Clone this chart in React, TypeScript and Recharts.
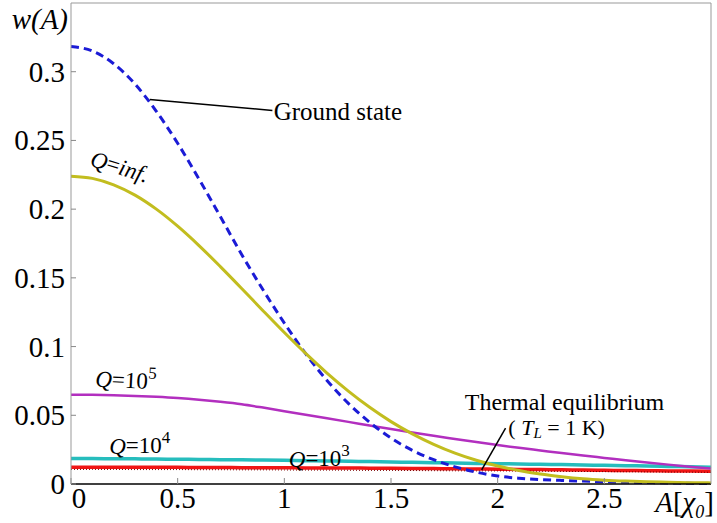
import { LineChart, Line, XAxis, YAxis, ReferenceLine, ReferenceDot } from 'recharts';

// amplitude A in units of chi_0
const amps = [
  0, 0.1, 0.2, 0.3, 0.4, 0.5, 0.6, 0.7, 0.8, 0.9, 1.0, 1.1, 1.2, 1.3, 1.4, 1.5,
  1.6, 1.7, 1.8, 1.9, 2.0, 2.1, 2.2, 2.3, 2.4, 2.5, 2.6, 2.7, 2.8, 2.9, 3.0,
];

const groundState = [
  0.3183, 0.3151, 0.3058, 0.291, 0.2712, 0.2479, 0.2219, 0.1946, 0.167, 0.1413, 0.1171,
  0.0948, 0.0753, 0.0587, 0.0449, 0.0334, 0.0245, 0.0177, 0.0125, 0.0086, 0.0058,
  0.0042, 0.0032, 0.0026, 0.0021, 0.0017, 0.0014, 0.0011, 0.0008, 0.0005, 0.0003,
];
const qInf = [
  0.224, 0.2224, 0.2177, 0.2102, 0.2, 0.1876, 0.1735, 0.1582, 0.1423, 0.1261, 0.1102,
  0.095, 0.0807, 0.0676, 0.0558, 0.0454, 0.0365, 0.0289, 0.0225, 0.0173, 0.0131,
  0.0098, 0.0072, 0.0053, 0.0038, 0.0028, 0.0021, 0.0016, 0.0013, 0.001, 0.0008,
];
const q1e5 = [
  0.065, 0.0649, 0.0646, 0.0641, 0.0634, 0.0625, 0.0613, 0.0598, 0.058, 0.0556, 0.053,
  0.0504, 0.0478, 0.0452, 0.0426, 0.04, 0.0375, 0.0351, 0.0328, 0.0305, 0.0283,
  0.0263, 0.0244, 0.0225, 0.0207, 0.019, 0.0173, 0.0157, 0.0141, 0.0126, 0.0112,
];
const q1e4 = [
  0.0185, 0.0185, 0.0184, 0.0183, 0.0182, 0.018, 0.0179, 0.0177, 0.0176, 0.0174, 0.0172,
  0.017, 0.0168, 0.0165, 0.0163, 0.016, 0.0158, 0.0155, 0.0153, 0.015, 0.0148,
  0.0146, 0.0143, 0.0141, 0.0138, 0.0136, 0.0133, 0.0131, 0.0128, 0.0125, 0.0122,
];
const q1e3 = [
  0.0122, 0.0122, 0.0122, 0.0121, 0.0121, 0.0121, 0.012, 0.012, 0.0119, 0.0119, 0.0118,
  0.0117, 0.0116, 0.0116, 0.0115, 0.0114, 0.0113, 0.0112, 0.0111, 0.0109, 0.0108,
  0.0106, 0.0105, 0.0103, 0.0102, 0.01, 0.0098, 0.0097, 0.0095, 0.0094, 0.0092,
];
const thermal = [
  0.0106, 0.0106, 0.0106, 0.0105, 0.0105, 0.0105, 0.0104, 0.0104, 0.0103, 0.0103, 0.0102,
  0.0101, 0.0101, 0.01, 0.0099, 0.0099, 0.0098, 0.0097, 0.0096, 0.0095, 0.0095,
  0.0094, 0.0093, 0.0092, 0.0091, 0.009, 0.0089, 0.0088, 0.0087, 0.0086, 0.0085,
];

const xTicks = [0, 0.5, 1, 1.5, 2, 2.5];
const yTicks = [0, 0.05, 0.1, 0.15, 0.2, 0.25, 0.3];

const rows = amps.map((a, i) => ({
  a,
  ground: groundState[i],
  inf: qInf[i],
  q5: q1e5[i],
  q4: q1e4[i],
  q3: q1e3[i],
  th: thermal[i],
}));

const SERIF = "'Liberation Serif', 'DejaVu Serif', serif";

const XTick = (p: any) => {
  const v = p.payload.value;
  return (
    <text x={p.x + (v === 0 ? 8 : 0)} y={p.y + 20} textAnchor="middle" fill="#000" style={{ fontFamily: SERIF, fontSize: 29 }}>
      {v}
    </text>
  );
};

const YTick = (p: any) => (
  <text x={p.x} y={p.y + 10} textAnchor="end" fill="#000" style={{ fontFamily: SERIF, fontSize: 29 }}>
    {p.payload.value}
  </text>
);

// text notes placed at data coordinates
const note = (content: any, opts: { anchor?: string; rotate?: number; size?: number } = {}) =>
  (p: any) => (
    <text
      x={p.cx}
      y={p.cy}
      textAnchor={opts.anchor || 'start'}
      dominantBaseline="central"
      fill="#000"
      style={{ fontFamily: SERIF, fontSize: opts.size || 25 }}
      transform={opts.rotate ? `rotate(${opts.rotate} ${p.cx} ${p.cy})` : undefined}
    >
      {content}
    </text>
  );

const qLabel = (exp: string) => (
  <>
    <tspan fontStyle="italic">Q</tspan>=10
    <tspan dy={-9} style={{ fontSize: 17 }}>{exp}</tspan>
  </>
);

export default function App() {
  const ids = { xAxisId: 'b', yAxisId: 'l' };
  return (
    <div style={{ position: 'absolute', left: 0, top: 0, background: '#fff' }}>
      <LineChart width={717} height={523} data={rows} margin={{ top: 0, right: 0, bottom: 0, left: 0 }}>
        <XAxis
          xAxisId="b"
          dataKey="a"
          type="number"
          domain={[0, 3]}
          ticks={xTicks}
          height={39}
          tickSize={-6}
          tickMargin={10}
          tick={<XTick />}
          axisLine={{ stroke: '#000', strokeWidth: 1.5 }}
          tickLine={{ stroke: '#888' }}
          label={{
            content: (p: any) => (
              <text x={p.viewBox.x + p.viewBox.width + 3} y={p.viewBox.y + 28} textAnchor="end" fill="#000" style={{ fontFamily: SERIF, fontSize: 29 }}>
                <tspan fontStyle="italic">A</tspan>[<tspan fontStyle="italic">χ</tspan>
                <tspan dy={6} fontStyle="italic" style={{ fontSize: 18 }}>0</tspan>
                <tspan dy={-6}>]</tspan>
              </text>
            ),
          }}
        />
        <XAxis
          xAxisId="t"
          dataKey="a"
          type="number"
          domain={[0, 3]}
          ticks={xTicks}
          orientation="top"
          height={3}
          tickSize={-7}
          tick={false}
          axisLine={{ stroke: '#999' }}
          tickLine={{ stroke: '#888' }}
        />
        <YAxis
          yAxisId="l"
          type="number"
          domain={[0, 0.35]}
          ticks={yTicks}
          width={71}
          tickSize={-5}
          tickMargin={11}
          tick={<YTick />}
          axisLine={{ stroke: '#999' }}
          tickLine={{ stroke: '#888' }}
          label={{
            content: (p: any) => (
              <text x={p.viewBox.x + 68} y={p.viewBox.y + 26} textAnchor="end" fontStyle="italic" fill="#000" style={{ fontFamily: SERIF, fontSize: 29 }}>
                w(A)
              </text>
            ),
          }}
        />
        <YAxis
          yAxisId="r"
          orientation="right"
          type="number"
          domain={[0, 0.35]}
          ticks={yTicks}
          width={6}
          tickSize={-6}
          tick={false}
          axisLine={{ stroke: '#999' }}
          tickLine={{ stroke: '#888' }}
        />

        <Line {...ids} dataKey="q4" type="monotone" stroke="#26bdbd" strokeWidth={3.5} dot={false} isAnimationActive={false} />
        <Line {...ids} dataKey="q3" type="monotone" stroke="#f01515" strokeWidth={3.5} dot={false} isAnimationActive={false} />
        <Line {...ids} dataKey="th" type="monotone" stroke="#7a0000" strokeWidth={1} strokeDasharray="1 2" dot={false} isAnimationActive={false} />
        <Line {...ids} dataKey="q5" type="monotone" stroke="#b22fbf" strokeWidth={2.5} dot={false} isAnimationActive={false} />
        <Line {...ids} dataKey="ground" type="monotone" stroke="#1b1bd6" strokeWidth={3} strokeDasharray="8 5" dot={false} isAnimationActive={false} />
        <Line {...ids} dataKey="inf" type="monotone" stroke="#c2bd1f" strokeWidth={3} dot={false} isAnimationActive={false} />

        <ReferenceLine {...ids} segment={[{ x: 0.369, y: 0.2798 }, { x: 0.944, y: 0.2718 }]} stroke="#000" strokeWidth={1.5} />
        <ReferenceLine {...ids} segment={[{ x: 2.037, y: 0.0407 }, { x: 1.925, y: 0.0102 }]} stroke="#000" strokeWidth={1.5} />

        <ReferenceDot {...ids} x={0.95} y={0.2712} r={0} shape={note('Ground state')} />
        <ReferenceDot {...ids} x={0.229} y={0.231} r={0} shape={note(<><tspan fontStyle="italic">Q</tspan>=<tspan fontStyle="italic">inf.</tspan></>, { anchor: 'middle', rotate: 17, size: 23 })} />
        <ReferenceDot {...ids} x={0.257} y={0.0755} r={0} shape={note(qLabel('5'), { anchor: 'middle', rotate: 3, size: 23 })} />
        <ReferenceDot {...ids} x={0.322} y={0.028} r={0} shape={note(qLabel('4'), { anchor: 'middle', size: 23 })} />
        <ReferenceDot {...ids} x={1.164} y={0.0185} r={0} shape={note(qLabel('3'), { anchor: 'middle', size: 23 })} />
        <ReferenceDot {...ids} x={2.313} y={0.0598} r={0} shape={note('Thermal equilibrium', { anchor: 'middle', size: 24 })} />
        <ReferenceDot
          {...ids}
          x={2.05}
          y={0.0412}
          r={0}
          shape={note(
            <>
              ( <tspan fontStyle="italic">T</tspan>
              <tspan dy={6} fontStyle="italic" style={{ fontSize: 15 }}>L</tspan>
              <tspan dy={-6}> = 1 K)</tspan>
            </>,
            { size: 22 },
          )}
        />
      </LineChart>
    </div>
  );
}
